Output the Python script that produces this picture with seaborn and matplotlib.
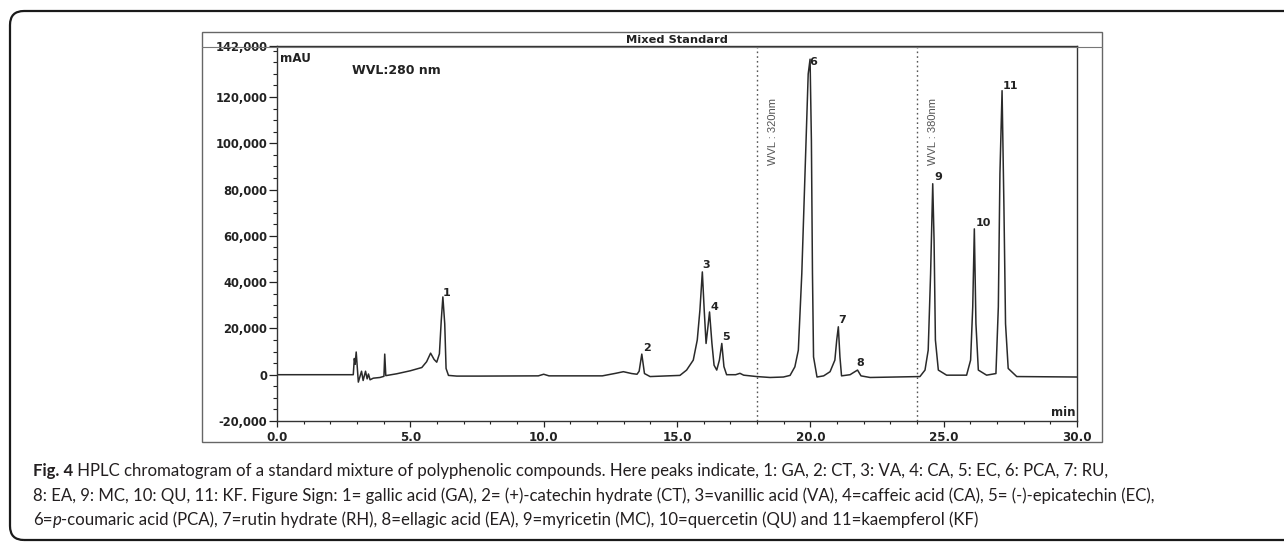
import matplotlib
matplotlib.use("Agg")
import matplotlib.pyplot as plt
import numpy as np
import pandas as pd
import seaborn as sns
from matplotlib.patches import FancyBboxPatch, Rectangle
from matplotlib.transforms import IdentityTransform
from matplotlib.ticker import FixedLocator, MultipleLocator, FuncFormatter

# ---------------- data ----------------
time_min = [0.0, 2.86, 2.90, 2.93, 2.97, 3.05, 3.17, 3.23, 3.32, 3.38, 3.43, 3.49,
            3.61, 3.86, 4.01, 4.04, 4.08, 4.49, 5.0, 5.43, 5.61, 5.76, 5.89, 5.99,
            6.09, 6.16, 6.22, 6.29, 6.34, 6.43, 6.74, 7.6, 9.8, 10.0, 10.2, 12.2,
            12.7, 12.99, 13.3, 13.5, 13.58, 13.68, 13.78, 13.99, 15.11, 15.36, 15.61,
            15.76, 15.86, 15.95, 16.02, 16.09, 16.16, 16.22, 16.31, 16.39, 16.49,
            16.59, 16.68, 16.76, 16.86, 17.2, 17.36, 17.5, 17.99, 18.49, 18.99, 19.24,
            19.42, 19.55, 19.68, 19.8, 19.92, 19.99, 20.04, 20.08, 20.12, 20.25, 20.5,
            20.74, 20.92, 20.99, 21.05, 21.11, 21.17, 21.49, 21.6, 21.77, 21.9, 22.24,
            24.11, 24.3, 24.42, 24.51, 24.59, 24.64, 24.69, 24.8, 25.11, 25.86, 26.01,
            26.09, 26.15, 26.21, 26.3, 26.61, 26.96, 27.05, 27.11, 27.19, 27.26, 27.32,
            27.42, 27.74, 30.0]
signal_mau = [0, 0, 7000, 4500, 9800, -3200, 1500, -2500, 1500, -1800, 300, -2200,
              -1500, -1200, -700, 8900, -400, 400, 1700, 3100, 5600, 9300, 6600, 5400,
              9000, 23500, 33600, 22000, 2700, -300, -600, -600, -500, 200, -500, -500,
              600, 1300, 500, 200, 1500, 8900, 500, -800, -300, 2000, 6300,
              15000, 28000, 44400, 28000, 13500, 20700, 27100, 13500, 4100, 2000,
              6300, 13500, 3500, 0, 0, 600, -200, -800, -1200, -1000, -300,
              3400, 10600, 43700, 86800, 129900, 136300, 101000, 43700, 7700, -1000, -500,
              1300, 6300, 15000, 20700, 7700, -500, 0, 800, 2000, -500, -1200,
              -800, 2000, 10600, 43700, 82500, 58000, 15000, 2000, -200, -200, 6300,
              29300, 63000, 22100, 2000, -200, 500, 29300, 86800, 122700, 72400, 22000,
              2700, -800, -1000]

peak_ids = ["1", "2", "3", "4", "5", "6", "7", "8", "9", "10", "11"]
peak_label_time = [6.35, 13.88, 16.11, 16.39, 16.84, 20.11, 21.2, 21.88, 24.8, 26.49, 27.49]
peak_label_mau = [35500, 11400, 47200, 29100, 16200, 135300, 23500, 4900, 85300, 65500, 124800]

y_ticks = [-20000, 0, 20000, 40000, 60000, 80000, 100000, 120000, 142000]
x_ticks = [0.0, 5.0, 10.0, 15.0, 20.0, 25.0, 30.0]

wvl_switch_time = [18.0, 24.0]
wvl_switch_text = ["WVL : 320nm", "WVL : 380nm"]

chart_title = "Mixed Standard"
wvl_start_text = "WVL:280 nm"
y_unit = "mAU"
x_unit = "min"

caption_lines = [
    [("Fig. 4", "bold", "normal"),
     (" HPLC chromatogram of a standard mixture of polyphenolic compounds. Here peaks indicate, "
      "1: GA, 2: CT, 3: VA, 4: CA, 5: EC, 6: PCA, 7: RU,", "normal", "normal")],
    [("8: EA, 9: MC, 10: QU, 11: KF. Figure Sign: 1= gallic acid (GA), 2= (+)-catechin hydrate (CT), "
      "3=vanillic acid (VA), 4=caffeic acid (CA), 5= (-)-epicatechin (EC),", "normal", "normal")],
    [("6=", "normal", "normal"), ("p", "normal", "italic"),
     ("-coumaric acid (PCA), 7=rutin hydrate (RH), 8=ellagic acid (EA), 9=myricetin (MC), "
      "10=quercetin (QU) and 11=kaempferol (KF)", "normal", "normal")],
]

# ---------------- style ----------------
sns.set_style("ticks")
plt.rcParams['font.family'] = ['DejaVu Sans']

W, H = 1284, 544
fig = plt.figure(figsize=(W / 100, H / 100), dpi=100)
fig.patch.set_facecolor("white")


def fx(px):
    return px / W


def fy(py):
    return 1 - py / H


# rounded figure box
box = FancyBboxPatch((10, H - 540), 1300, 529, boxstyle="round,pad=0,rounding_size=14",
                     transform=IdentityTransform(), fill=False, ec="#1a1a1a", lw=1.6)
fig.add_artist(box)

# instrument frame around chart
frame = Rectangle((fx(202), fy(442)), fx(1102) - fx(202), fy(32) - fy(442),
                  transform=fig.transFigure, fill=False, ec="#666666", lw=1.0)
fig.add_artist(frame)

ax = fig.add_axes([fx(277), fy(421), fx(1077) - fx(277), fy(46) - fy(421)])
df = pd.DataFrame({"t": time_min, "mAU": signal_mau})
sns.lineplot(data=df, x="t", y="mAU", ax=ax, color="#2a2a2a", lw=1.1,
             estimator=None, sort=False)

ax.set_xlim(0, 30)
ax.set_ylim(-20000, 142000)
ax.set_xlabel("")
ax.set_ylabel("")

ax.yaxis.set_major_locator(FixedLocator(y_ticks))
ax.yaxis.set_minor_locator(MultipleLocator(5000))
ax.yaxis.set_major_formatter(FuncFormatter(lambda v, p: f"{int(v):,}"))
ax.xaxis.set_major_locator(FixedLocator(x_ticks))
ax.xaxis.set_minor_locator(MultipleLocator(1.0))
ax.xaxis.set_major_formatter(FuncFormatter(lambda v, p: f"{v:.1f}"))

ax.tick_params(axis="y", which="major", direction="out", length=6, width=0.9, pad=1,
               labelsize=8.3, colors="#222222")
ax.tick_params(axis="y", which="minor", direction="out", length=3, width=0.8, colors="#222222")
ax.tick_params(axis="x", which="major", direction="out", length=4, width=0.9, pad=3,
               labelsize=8.6, colors="#222222")
ax.tick_params(axis="x", which="minor", direction="out", length=2.5, width=0.8, colors="#222222")
for lab in ax.get_xticklabels() + ax.get_yticklabels():
    lab.set_fontweight("bold")

for s in ax.spines.values():
    s.set_visible(True)
    s.set_color("#333333")
    s.set_linewidth(1.0)

# wavelength switch lines
for t, txt in zip(wvl_switch_time, wvl_switch_text):
    ax.axvline(t, color="#555555", lw=1.0, ls=(0, (1.2, 2.2)))
    ax.text(t + 0.6, 105000, txt, rotation=90, ha="center", va="center",
            fontsize=8, color="#555555",
            family=["Liberation Sans", "DejaVu Sans"])

# peak labels
for pid, t, v in zip(peak_ids, peak_label_time, peak_label_mau):
    ax.text(t, v, pid, ha="center", va="center", fontsize=8, fontweight="bold", color="#222222")

# annotations inside chart
ax.text(0.004, 0.985, y_unit, transform=ax.transAxes, ha="left", va="top",
        fontsize=8.6, fontweight="bold", color="#222222")
fig.text(fx(352), fy(70), wvl_start_text, ha="left", va="center",
         fontsize=9, fontweight="bold", color="#222222")
ax.text(0.998, 0.006, x_unit, transform=ax.transAxes, ha="right", va="bottom",
        fontsize=8.5, fontweight="bold", color="#222222")
fig.text(fx(677), fy(40), chart_title, ha="center", va="center",
         fontsize=8.2, fontweight="bold", color="#222222")
fig.add_artist(plt.Line2D([fx(202), fx(1102)], [fy(47), fy(47)], transform=fig.transFigure,
                          color="#777777", lw=0.8))

# caption
renderer = fig.canvas.get_renderer()
cap_fs = 12.1
cap_family = ["Lato", "DejaVu Sans"]
line_y = [471, 496, 520]
for segs, yy in zip(caption_lines, line_y):
    x = 33
    for txt, weight, style in segs:
        t = fig.text(fx(x), fy(yy), txt, ha="left", va="center", fontsize=cap_fs,
                     fontweight=weight, fontstyle=style, family=cap_family, color="#231f20")
        x += t.get_window_extent(renderer).width

fig.savefig("out.png", dpi=100, facecolor="white")
